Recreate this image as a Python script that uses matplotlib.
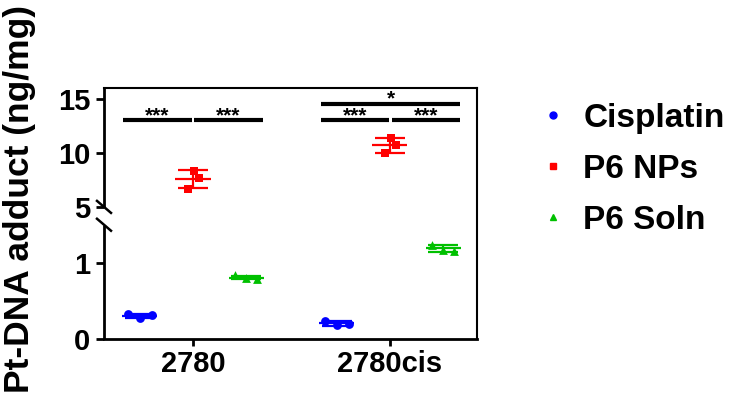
import numpy as np
import matplotlib
matplotlib.use("Agg")
import matplotlib.pyplot as plt
from matplotlib.lines import Line2D

plt.rcParams['font.family'] = ['Liberation Sans', 'DejaVu Sans']
plt.rcParams['font.weight'] = 'bold'

# ---------------- data ----------------
groups = ["2780", "2780cis"]
series = ["Cisplatin", "P6 NPs", "P6 Soln"]
colors = ["#0000FF", "#FF0000", "#00C000"]
markers = ["o", "s", "^"]

cisplatin = [[0.33, 0.28, 0.31], [0.24, 0.18, 0.20]]
p6_nps = [[8.3, 7.7, 6.7], [11.36, 10.74, 9.97]]
p6_soln = [[0.835, 0.80, 0.79], [1.24, 1.17, 1.16]]
values = [cisplatin, p6_nps, p6_soln]

# horizontal scatter of the replicate points (x units)
jitter = [[-0.06, 0.0, 0.06], [0.005, 0.03, -0.025], [-0.055, 0.0, 0.055]]
series_offset = [-0.27, 0.0, 0.27]

yticks = [0, 1, 5, 10, 15]

# significance annotations: (group, start, end, y, label)
sig = [
    (0, -0.355, -0.007, 13.0, "***"),
    (0, 0.005, 0.354, 13.0, "***"),
    (1, -0.35, -0.003, 13.0, "***"),
    (1, 0.008, 0.358, 13.0, "***"),
    (1, -0.35, 0.358, 14.55, "*"),
]

# ---------------- broken scale ----------------
def fwd(y):
    y = np.asarray(y, float)
    return np.where(y <= 1.5, 76 * y,
                    np.where(y <= 5, 114 + (y - 1.5) * 18 / 3.5,
                             132 + (y - 5) * 10.8))

def inv(t):
    t = np.asarray(t, float)
    return np.where(t <= 114, t / 76,
                    np.where(t <= 132, 1.5 + (t - 114) * 3.5 / 18,
                             5 + (t - 132) / 10.8))

W, H = 732, 396
fig = plt.figure(figsize=(W / 100, H / 100), dpi=100)
ax = fig.add_axes([104 / W, 57 / H, 373 / W, 251 / H])
ax.set_yscale('function', functions=(fwd, inv))
ax.set_ylim(0, 16)
ax.set_xlim(-0.452, 1.442)

for si in range(3):
    for gi in range(2):
        vals = np.array(values[si][gi])
        xc = gi + series_offset[si]
        xs = xc + np.array(jitter[si])
        m = vals.mean()
        sd = vals.std(ddof=1)
        ax.errorbar([xc], [m], yerr=[sd], fmt='none', ecolor=colors[si],
                    elinewidth=1.6, capsize=11, capthick=1.6, zorder=3)
        ax.hlines(m, xc - 0.089, xc + 0.089, color=colors[si], lw=1.6, zorder=3)
        ax.scatter(xs, vals, marker=markers[si], s=40, color=colors[si],
                   linewidths=0, zorder=4)

for gi, a, b, y, lab in sig:
    ax.plot([gi + a, gi + b], [y, y], color='black', lw=3,
            solid_capstyle='butt', zorder=5)
    ax.text(gi + (a + b) / 2, y - 0.08, lab, ha='center', va='baseline',
            fontsize=15, fontweight='bold', zorder=6)

# axes styling
ax.set_xticks([0, 1])
ax.set_xticklabels(groups)
ax.set_yticks(yticks)
ax.set_yticklabels([str(v) for v in yticks])
ax.minorticks_off()
ax.tick_params(axis='both', labelsize=21, width=2, length=6, pad=4,
               direction='out')
ax.tick_params(axis='x', length=5, pad=3)
for lab in ax.get_xticklabels() + ax.get_yticklabels():
    lab.set_fontweight('bold')
ax.spines['bottom'].set_linewidth(2)
ax.spines['top'].set_linewidth(1.5)
ax.spines['right'].set_linewidth(1.5)
ax.spines['left'].set_visible(False)

# left spine with break
ytr = ax.get_yaxis_transform()
ax.plot([0, 0], [0, 1.53], color='black', lw=2, transform=ytr,
        clip_on=False, solid_capstyle='butt')
ax.plot([0, 0], [5.0, 16], color='black', lw=2, transform=ytr,
        clip_on=False, solid_capstyle='butt')
tot = float(fwd(16) - fwd(0))
dx, dy = 7 / 373, 6 / 251
for yc in [5.0, 1.53]:
    ya = float(fwd(yc)) / tot
    ax.plot([-dx, dx], [ya + dy, ya - dy], color='black', lw=1.8,
            transform=ax.transAxes, clip_on=False)

# y label
fig.text(20 / W, 1 - 199 / H, "Pt-DNA adduct (ng/mg)", rotation=90,
         ha='center', va='center', fontsize=25.5, fontweight='bold')

# legend
handles = [Line2D([], [], linestyle='none', marker=markers[i], color=colors[i],
                  markersize=5) for i in range(3)]
fig.legend(handles, series, loc='upper left',
           bbox_to_anchor=(536 / W, 1 - 103 / H), bbox_transform=fig.transFigure,
           frameon=False, borderpad=0, borderaxespad=0, handlelength=1.0,
           handletextpad=0.42, labelspacing=0.6, numpoints=1,
           prop={'size': 24, 'weight': 'bold'})

fig.savefig("out.png", dpi=100)
